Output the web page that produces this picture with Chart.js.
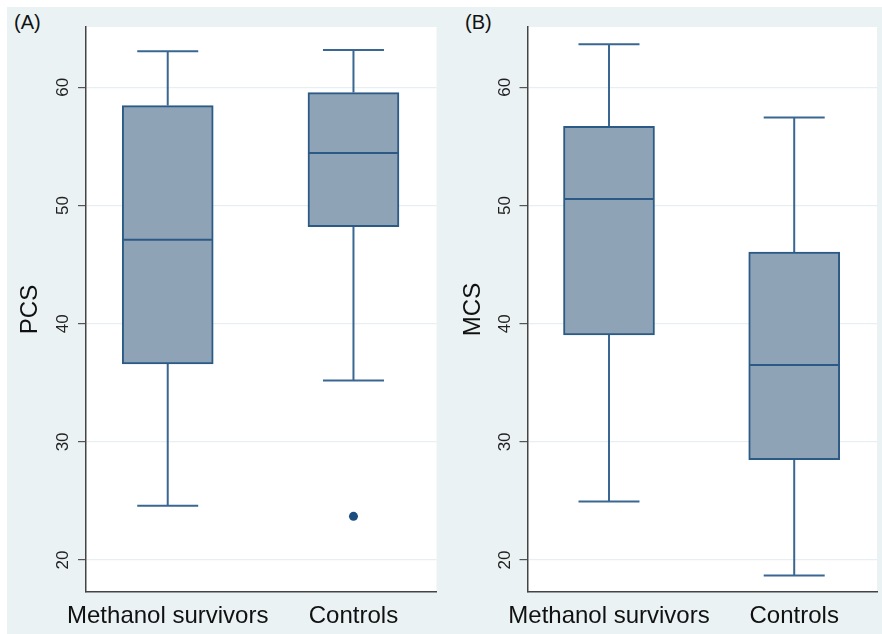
<!DOCTYPE html>
<html>
<head>
<meta charset="utf-8">
<script src="https://cdn.jsdelivr.net/npm/chart.js@4.4.1/dist/chart.umd.min.js"></script>
<style>
  body { margin: 0; background: #fff; width: 882px; height: 634px; position: relative; overflow: hidden; }
  #bg { position: absolute; left: 7px; top: 7px; width: 875px; height: 627px; background: #eaf2f3; }
  canvas { position: absolute; top: 7px; }
  .tag { position: absolute; top: 11px; font: 20px "Liberation Sans", Arial, sans-serif; color: #111; }
</style>
</head>
<body>
<div id="bg"></div>
<div class="tag" style="left:14px">(A)</div>
<div class="tag" style="left:465px">(B)</div>
<canvas id="pcs" width="434" height="627" style="left:7px"></canvas>
<canvas id="mcs" width="441" height="627" style="left:441px"></canvas>
<script>
const groups = ['Methanol survivors', 'Controls'];
const yTicks = [20, 30, 40, 50, 60];

// PCS: [lower whisker, Q1, median, Q3, upper whisker]
const pcsSurvivors = [24.6, 36.6, 47.1, 58.45, 63.05];
const pcsControls = [35.2, 48.2, 54.45, 59.55, 63.15];
const pcsOutliers = [{ x: 2, y: 23.7 }];

// MCS
const mcsSurvivors = [24.95, 39.05, 50.55, 56.7, 63.65];
const mcsControls = [18.7, 28.5, 36.5, 46.05, 57.45];
const mcsOutliers = [];

const FONT = '"Liberation Sans", Arial, sans-serif';
const LINE = '#2c5a86';

const boxLines = {
  id: 'boxLines',
  beforeDraw(chart) {
    const { ctx, chartArea: a } = chart;
    ctx.save();
    ctx.fillStyle = '#fff';
    ctx.fillRect(a.left, a.top, a.right - a.left, a.bottom - a.top);
    ctx.restore();
  },
  beforeDatasetsDraw(chart) {
    const { ctx, scales: { x, y } } = chart;
    const stats = chart.options.plugins.boxLines.stats;
    ctx.save();
    ctx.strokeStyle = '#3a6792';
    ctx.lineWidth = 2;
    stats.forEach((s, i) => {
      const cx = x.getPixelForValue(i + 1);
      const half = 30.5;
      ctx.beginPath();
      ctx.moveTo(cx, y.getPixelForValue(s[3]));
      ctx.lineTo(cx, y.getPixelForValue(s[4]));
      ctx.moveTo(cx - half, y.getPixelForValue(s[4]));
      ctx.lineTo(cx + half, y.getPixelForValue(s[4]));
      ctx.moveTo(cx, y.getPixelForValue(s[1]));
      ctx.lineTo(cx, y.getPixelForValue(s[0]));
      ctx.moveTo(cx - half, y.getPixelForValue(s[0]));
      ctx.lineTo(cx + half, y.getPixelForValue(s[0]));
      ctx.stroke();
    });
    ctx.restore();
  },
  afterDatasetsDraw(chart) {
    const { ctx, scales: { x, y } } = chart;
    const stats = chart.options.plugins.boxLines.stats;
    ctx.save();
    ctx.strokeStyle = LINE;
    ctx.lineWidth = 2;
    stats.forEach((s, i) => {
      const cx = x.getPixelForValue(i + 1);
      const ym = y.getPixelForValue(s[2]);
      ctx.beginPath();
      ctx.moveTo(cx - 45, ym);
      ctx.lineTo(cx + 45, ym);
      ctx.stroke();
    });
    ctx.restore();
  },
  afterDraw(chart) {
    // vertical tick labels, Stata style
    const { ctx, scales: { y }, chartArea } = chart;
    ctx.save();
    ctx.fillStyle = '#222';
    ctx.font = '17px ' + FONT;
    ctx.textAlign = 'center';
    ctx.textBaseline = 'middle';
    yTicks.forEach(t => {
      ctx.save();
      ctx.translate(chartArea.left - 22.5, y.getPixelForValue(t));
      ctx.rotate(-Math.PI / 2);
      ctx.fillText(String(t), 0, 0);
      ctx.restore();
    });
    ctx.restore();
  }
};

function makeChart(id, title, survivors, controls, outliers, yWidth, titlePad, padRight) {
  new Chart(document.getElementById(id), {
    type: 'bar',
    data: {
      datasets: [
        {
          data: [
            { x: 1, y: [survivors[1], survivors[3]] },
            { x: 2, y: [controls[1], controls[3]] }
          ],
          backgroundColor: '#8ea4b6',
          borderColor: LINE,
          borderWidth: 2,
          borderSkipped: false,
          barThickness: 91
        },
        {
          type: 'scatter',
          data: outliers,
          backgroundColor: '#1b4d7e',
          borderWidth: 0,
          pointRadius: 4.5
        }
      ]
    },
    options: {
      responsive: false,
      animation: false,
      layout: { padding: { left: 0, right: padRight, top: 20, bottom: 0 } },
      plugins: {
        legend: { display: false },
        tooltip: { enabled: false },
        boxLines: { stats: [survivors, controls] }
      },
      scales: {
        x: {
          type: 'linear',
          offset: false,
          bounds: 'ticks',
          min: 0.56,
          max: 2.447,
          afterBuildTicks: s => { s.ticks = [{ value: 1 }, { value: 2 }]; },
          afterFit: s => { s.height = 42; },
          grid: { display: false },
          border: { color: '#444', width: 1.5 },
          ticks: {
            autoSkip: false,
            maxRotation: 0,
            padding: 2,
            color: '#111',
            font: { family: FONT, size: 24 },
            callback: v => groups[v - 1]
          }
        },
        y: {
          min: 17.3,
          max: 65.1,
          afterBuildTicks: s => { s.ticks = yTicks.map(v => ({ value: v })); },
          afterFit: s => { s.width = yWidth; },
          grid: { color: '#e6eff1', lineWidth: 1.2, tickLength: 8, tickColor: '#555' },
          border: { color: '#444', width: 1.5 },
          ticks: { display: false },
          title: {
            display: true,
            text: title,
            color: '#111',
            font: { family: FONT, size: 24 },
            padding: { top: titlePad, bottom: 0 }
          }
        }
      }
    },
    plugins: [boxLines]
  });
}

makeChart('pcs', 'PCS', pcsSurvivors, pcsControls, pcsOutliers, 79, 9, 4);
makeChart('mcs', 'MCS', mcsSurvivors, mcsControls, mcsOutliers, 86.5, 18, 5);
</script>
</body>
</html>
